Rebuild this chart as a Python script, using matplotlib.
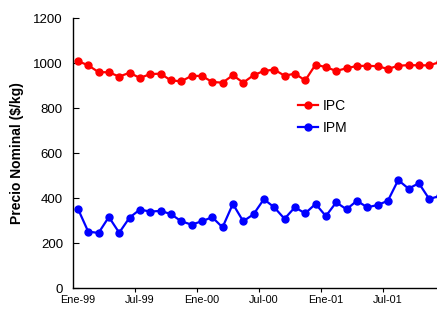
import matplotlib
matplotlib.use("Agg")
import matplotlib.pyplot as plt
import numpy as np

plt.rcParams['font.family'] = ['Liberation Sans', 'DejaVu Sans']

# monthly series, Ene-99 .. Dic-01
ipc = [1010, 991, 961, 960, 941, 958, 935, 952, 954, 924, 920, 944,
       944, 917, 914, 947, 914, 947, 966, 972, 945, 954, 924, 994,
       983, 966, 978, 988, 989, 987, 975, 989, 992, 991, 991, 1005]
ipm = [354, 252, 246, 317, 247, 314, 350, 341, 344, 330, 298, 283,
       298, 316, 271, 375, 298, 329, 396, 360, 309, 360, 333, 375,
       321, 382, 351, 389, 360, 370, 389, 481, 443, 467, 397, 410]
tick_labels = ["Ene-99", "Jul-99", "Ene-00", "Jul-00", "Ene-01", "Jul-01"]

x = np.arange(len(ipc))

fig = plt.figure(figsize=(4.37, 3.10), dpi=100)
ax = fig.add_axes([72.7 / 437, 21.7 / 310, 372 / 437, 270 / 310])

ax.plot(x, ipc, color="#ff0000", lw=1.6, marker="o", ms=5, label="IPC")
ax.plot(x, ipm, color="#0000ff", lw=1.6, marker="o", ms=5, label="IPM")

ax.set_xlim(-0.5, len(ipc) - 0.5)
ax.set_ylim(0, 1200)
ax.set_yticks(range(0, 1201, 200))
ax.tick_params(axis="y", direction="in", length=4, labelsize=9.5, pad=7)

# ticks between categories, labels on category centres
ax.set_xticks(np.arange(5.5, len(ipc) - 1, 6))
ax.set_xticklabels([])
ax.tick_params(axis="x", which="major", direction="out", length=3)
ax.set_xticks(np.arange(0, len(ipc), 6), minor=True)
ax.set_xticklabels(tick_labels, minor=True)
ax.tick_params(axis="x", which="minor", length=0, labelsize=7.8, pad=5)

for s in ["top", "right"]:
    ax.spines[s].set_visible(False)
ax.spines["left"].set_linewidth(1.0)
ax.spines["bottom"].set_linewidth(1.0)

ax.set_ylabel("Precio Nominal ($/kg)", fontsize=10, fontweight="bold", labelpad=7)

fig.legend(loc="upper left", bbox_to_anchor=(298 / 437, 1 - 99 / 310),
           frameon=False, fontsize=10, borderpad=0, borderaxespad=0,
           handlelength=1.45, handletextpad=0.3, labelspacing=0.55)

fig.savefig("out.png", dpi=100)
